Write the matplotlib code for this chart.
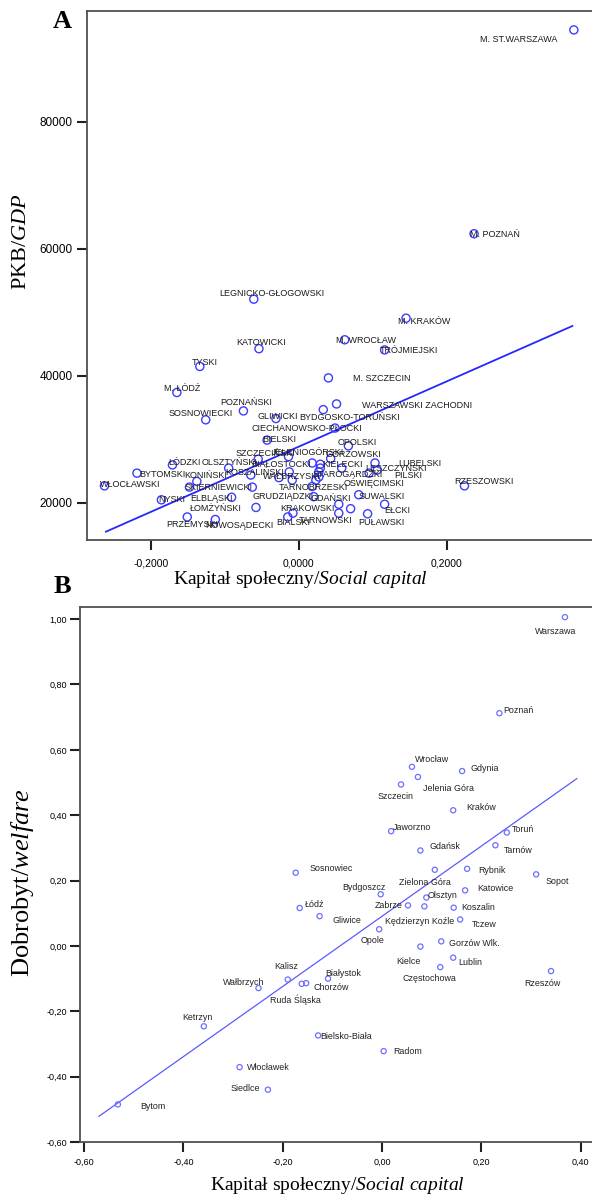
import matplotlib
matplotlib.use("Agg")
import matplotlib.pyplot as plt
import numpy as np

plt.rcParams['font.family'] = ['Liberation Sans', 'DejaVu Sans']
plt.rcParams['mathtext.fontset'] = 'custom'
plt.rcParams['mathtext.rm'] = 'Liberation Serif'
plt.rcParams['mathtext.it'] = 'Liberation Serif:italic'

# ---------------- Panel A data ----------------
regions_a = ["M. ST.WARSZAWA", "M. POZNAŃ", "LEGNICKO-GŁOGOWSKI", "M. KRAKÓW", "KATOWICKI",
             "M. WROCŁAW", "TRÓJMIEJSKI", "TYSKI", "M. ŁÓDŹ", "M. SZCZECIN",
             "POZNAŃSKI", "WARSZAWSKI ZACHODNI", "BYDGOSKO-TORUŃSKI", "SOSNOWIECKI", "GLIWICKI",
             "CIECHANOWSKO-PŁOCKI", "BIELSKI", "OPOLSKI", "SZCZECIŃSKI", "JELENIOGÓRSKI",
             "GORZOWSKI", "ŁÓDZKI", "OLSZTYŃSKI", "BIAŁOSTOCKI", "KIELECKI",
             "LUBELSKI", "LESZCZYŃSKI", "PILSKI", "STAROGARDZKI", "WAŁBRZYSKI",
             "KOSZALIŃSKI", "BYTOMSKI", "KONIŃSKI", "WŁOCŁAWSKI", "SKIERNIEWICKI",
             "TARNOBRZESKI", "OŚWIĘCIMSKI", "NYSKI", "ELBLĄSKI", "GRUDZIĄDZKI",
             "GDAŃSKI", "SUWALSKI", "ŁOMŻYŃSKI", "KRAKOWSKI", "EŁCKI",
             "PRZEMYSKI", "NOWOSĄDECKI", "BIALSKI", "TARNOWSKI", "PUŁAWSKI",
             "RZESZOWSKI", "", "", "", "", "", "", ""]
social_a = [0.372, 0.237, -0.061, 0.145, -0.054,
            0.062, 0.116, -0.134, -0.165, 0.040,
            -0.075, 0.051, 0.033, -0.126, -0.031,
            0.049, -0.043, 0.067, -0.055, -0.014,
            0.043, -0.171, -0.095, -0.013, 0.058,
            0.103, 0.095, 0.106, 0.027, -0.027,
            -0.065, -0.219, -0.138, -0.263, -0.148,
            0.018, 0.023, -0.186, -0.091, 0.020,
            0.054, 0.081, -0.058, -0.008, 0.116,
            -0.151, -0.113, -0.015, 0.054, 0.093,
            0.224, 0.070, 0.018, 0.029, 0.029, -0.063, -0.009, 0.027]
gdp_a = [94500, 62400, 52100, 49100, 44300,
         45700, 44100, 41500, 37400, 39700,
         34500, 35600, 34700, 33100, 33300,
         31800, 29900, 29000, 26900, 27300,
         27000, 26000, 25500, 24900, 25500,
         26300, 24700, 25200, 24900, 24000,
         24400, 24700, 23400, 22700, 22500,
         22600, 23600, 20500, 20900, 21000,
         19800, 21300, 19300, 18400, 19800,
         17800, 17400, 17800, 18400, 18300,
         22700, 19100, 26300, 26100, 25500, 22500, 23600, 24100]
fit_a_x = [-0.261, 0.370]
fit_a_intercept = 28880
fit_a_slope = 51340
xticks_a = [-0.2, 0.0, 0.2]
xticklabels_a = ["-0,2000", "0,0000", "0,2000"]
yticks_a = [20000, 40000, 60000, 80000]

# label offsets (pixels, right / down) -- layout only
label_off_a = [(-55, 10), (21, 1), (18, -6), (18, 3), (2, -6),
               (21, 1), (24, 1), (5, -4), (5, -4), (53, 1),
               (3, -8), (80, 2), (26, 8), (-5, -6), (2, -2),
               (-28, 0), (12, -1), (9, -3), (7, -6), (19, -4),
               (23, -4), (13, -2), (1, -6), (-8, -7), (1, -4),
               (45, 1), (27, -5), (31, 6), (29, 3), (13, -1),
               (4, -3), (25, 1), (9, -6), (26, -1), (29, 0),
               (1, 1), (58, 3), (10, 0), (-20, 1), (-31, 0),
               (-8, -6), (23, 2), (-40, 1), (14, -5), (13, 6),
               (5, 8), (24, 6), (5, 6), (-13, 7), (14, 9),
               (19, -4), (0, 0), (0, 0), (0, 0), (0, 0), (0, 0), (0, 0), (0, 0)]

# ---------------- Panel B data ----------------
cities_b = ["Warszawa", "Poznań", "Wrocław", "Gdynia", "Jelenia Góra", "Szczecin", "Kraków",
            "Jaworzno", "Toruń", "Gdańsk", "Tarnów", "Rybnik", "Sopot", "Zielona Góra",
            "Katowice", "Olsztyn", "Bydgoszcz", "Zabrze", "Kędzierzyn Koźle", "Koszalin",
            "Tczew", "Gliwice", "Łódź", "Sosnowiec", "Opole", "Gorzów Wlk.", "Kielce",
            "Lublin", "Częstochowa", "Rzeszów", "Kalisz", "Wałbrzych", "Ruda Śląska",
            "Chorzów", "Białystok", "Ketrzyn", "Bielsko-Biała", "Radom", "Włocławek",
            "Siedlce", "Bytom"]
social_b = [0.368, 0.236, 0.060, 0.161, 0.072, 0.038, 0.143,
            0.018, 0.251, 0.077, 0.228, 0.171, 0.310, 0.106,
            0.167, 0.089, -0.003, 0.052, 0.085, 0.144,
            0.157, -0.126, -0.166, -0.174, -0.006, 0.119, 0.077,
            0.143, 0.117, 0.340, -0.190, -0.249, -0.162,
            -0.153, -0.109, -0.359, -0.129, 0.003, -0.287,
            -0.230, -0.532]
welfare_b = [1.006, 0.712, 0.548, 0.535, 0.517, 0.494, 0.415,
             0.351, 0.347, 0.292, 0.308, 0.236, 0.219, 0.233,
             0.170, 0.148, 0.158, 0.124, 0.121, 0.117,
             0.081, 0.091, 0.116, 0.224, 0.051, 0.014, -0.002,
             -0.036, -0.065, -0.077, -0.103, -0.129, -0.116,
             -0.114, -0.100, -0.246, -0.274, -0.322, -0.371,
             -0.440, -0.485]
fit_b_x = [-0.570, 0.392]
fit_b_intercept = 0.091
fit_b_slope = 1.074
xticks_b = [-0.6, -0.4, -0.2, 0.0, 0.2, 0.4]
yticks_b = [-0.6, -0.4, -0.2, 0.0, 0.2, 0.4, 0.6, 0.8, 1.0]

label_off_b = [(-9, 14), (19, -3), (20, -7), (23, -3), (31, 12), (-6, 12), (28, -3),
               (21, -4), (16, -3), (25, -4), (23, 5), (25, 2), (21, 7), (-10, 13),
               (30, -2), (16, -2), (-17, -7), (-19, 0), (-5, 15), (25, 0),
               (24, 5), (27, 4), (15, -3), (35, -4), (-7, 11), (33, 2), (-12, 15),
               (17, 5), (-11, 11), (-9, 12), (-2, -13), (-15, -6), (-6, 16),
               (25, 4), (15, -5), (-6, -9), (28, 1), (24, 0), (29, 0),
               (-23, -1), (35, 2)]

def comma(v, nd):
    return f"{v:.{nd}f}".replace(".", ",")

W, H = 592, 1201
fig = plt.figure(figsize=(W / 100, H / 100), dpi=100)
PX = 72 / 100.0  # points per pixel

spine_col = '#505050'

def style_axes(ax):
    for s in ax.spines.values():
        s.set_color(spine_col)
        s.set_linewidth(1.3)
    ax.tick_params(direction='out', length=7.5, width=1.5, color='#202020')

# ---------------- Panel A ----------------
a_left, a_right, a_top, a_bot = 87, W + 3, 11, 539.5
axA = fig.add_axes([a_left / W, 1 - a_bot / H, (a_right - a_left) / W, (a_bot - a_top) / H])
xA = np.array(social_a)
yA = np.array(gdp_a)
axA.scatter(xA, yA, s=34, facecolors='none', edgecolors='#3c3cff', linewidths=1.0, zorder=3)
fx = np.array(fit_a_x)
axA.plot(fx, fit_a_intercept + fit_a_slope * fx, color='#2626ff', lw=1.3, zorder=2)
for name, x, y, (dx, dy) in zip(regions_a, social_a, gdp_a, label_off_a):
    if name:
        axA.annotate(name, (x, y), xytext=(dx * PX, -dy * PX), textcoords='offset points',
                     ha='center', va='center', fontsize=6.5, color='#1a1a1a', zorder=4)
axA.set_xlim(-0.2866, 0.4006)
axA.set_ylim(14250, 97480)
axA.set_xticks(xticks_a)
axA.set_xticklabels(xticklabels_a, fontsize=7.5)
axA.set_yticks(yticks_a)
axA.set_yticklabels([str(v) for v in yticks_a], fontsize=8.5)
style_axes(axA)
axA.tick_params(axis='x', pad=6)
axA.tick_params(axis='y', pad=3)
axA.set_xlabel("Kapitał społeczny/$\\mathit{Social\\ capital}$", fontsize=14,
               family='Liberation Serif')
axA.xaxis.set_label_coords((300 - a_left) / (a_right - a_left), (a_bot - 579) / (a_bot - a_top))
axA.xaxis.label.set_va('center')
axA.set_ylabel("PKB/$\\mathit{GDP}$", fontsize=16, family='Liberation Serif')
axA.yaxis.set_label_coords((22 - a_left) / (a_right - a_left), (a_bot - 242) / (a_bot - a_top))
axA.yaxis.label.set_va('center')
fig.text(62 / W, 1 - 21 / H, "A", fontsize=19, fontweight='bold', family='Liberation Serif',
         ha='center', va='center')

# ---------------- Panel B ----------------
b_left, b_right, b_top, b_bot = 80.4, W + 3, 607, 1142
axB = fig.add_axes([b_left / W, 1 - b_bot / H, (b_right - b_left) / W, (b_bot - b_top) / H])
xB = np.array(social_b)
yB = np.array(welfare_b)
axB.scatter(xB, yB, s=14, facecolors='none', edgecolors='#6e6eff', linewidths=0.9, zorder=3)
gx = np.array(fit_b_x)
axB.plot(gx, fit_b_intercept + fit_b_slope * gx, color='#5a5aff', lw=0.9, zorder=2)
for name, x, y, (dx, dy) in zip(cities_b, social_b, welfare_b, label_off_b):
    axB.annotate(name, (x, y), xytext=(dx * PX, -dy * PX), textcoords='offset points',
                 ha='center', va='center', fontsize=6.4, color='#222222', zorder=4)
axB.set_xlim(-0.6075, 0.4285)
axB.set_ylim(-0.6, 1.037)
axB.set_xticks(xticks_b)
axB.set_xticklabels([comma(v, 2) for v in xticks_b], fontsize=6.5)
axB.set_yticks(yticks_b)
axB.set_yticklabels([comma(v, 2) for v in yticks_b], fontsize=6.5)
style_axes(axB)
axB.tick_params(axis='x', pad=4)
axB.tick_params(axis='y', pad=2)
axB.set_xlabel("Kapitał społeczny/$\\mathit{Social\\ capital}$", fontsize=14,
               family='Liberation Serif')
axB.xaxis.set_label_coords((337 - b_left) / (b_right - b_left), (b_bot - 1185) / (b_bot - b_top))
axB.xaxis.label.set_va('center')
axB.set_ylabel("Dobrobyt/$\\mathit{welfare}$", fontsize=19, family='Liberation Serif')
axB.yaxis.set_label_coords((23 - b_left) / (b_right - b_left), (b_bot - 883) / (b_bot - b_top))
axB.yaxis.label.set_va('center')
fig.text(62 / W, 1 - 587 / H, "B", fontsize=19, fontweight='bold', family='Liberation Serif',
         ha='center', va='center')

fig.savefig("out.png", dpi=100)
